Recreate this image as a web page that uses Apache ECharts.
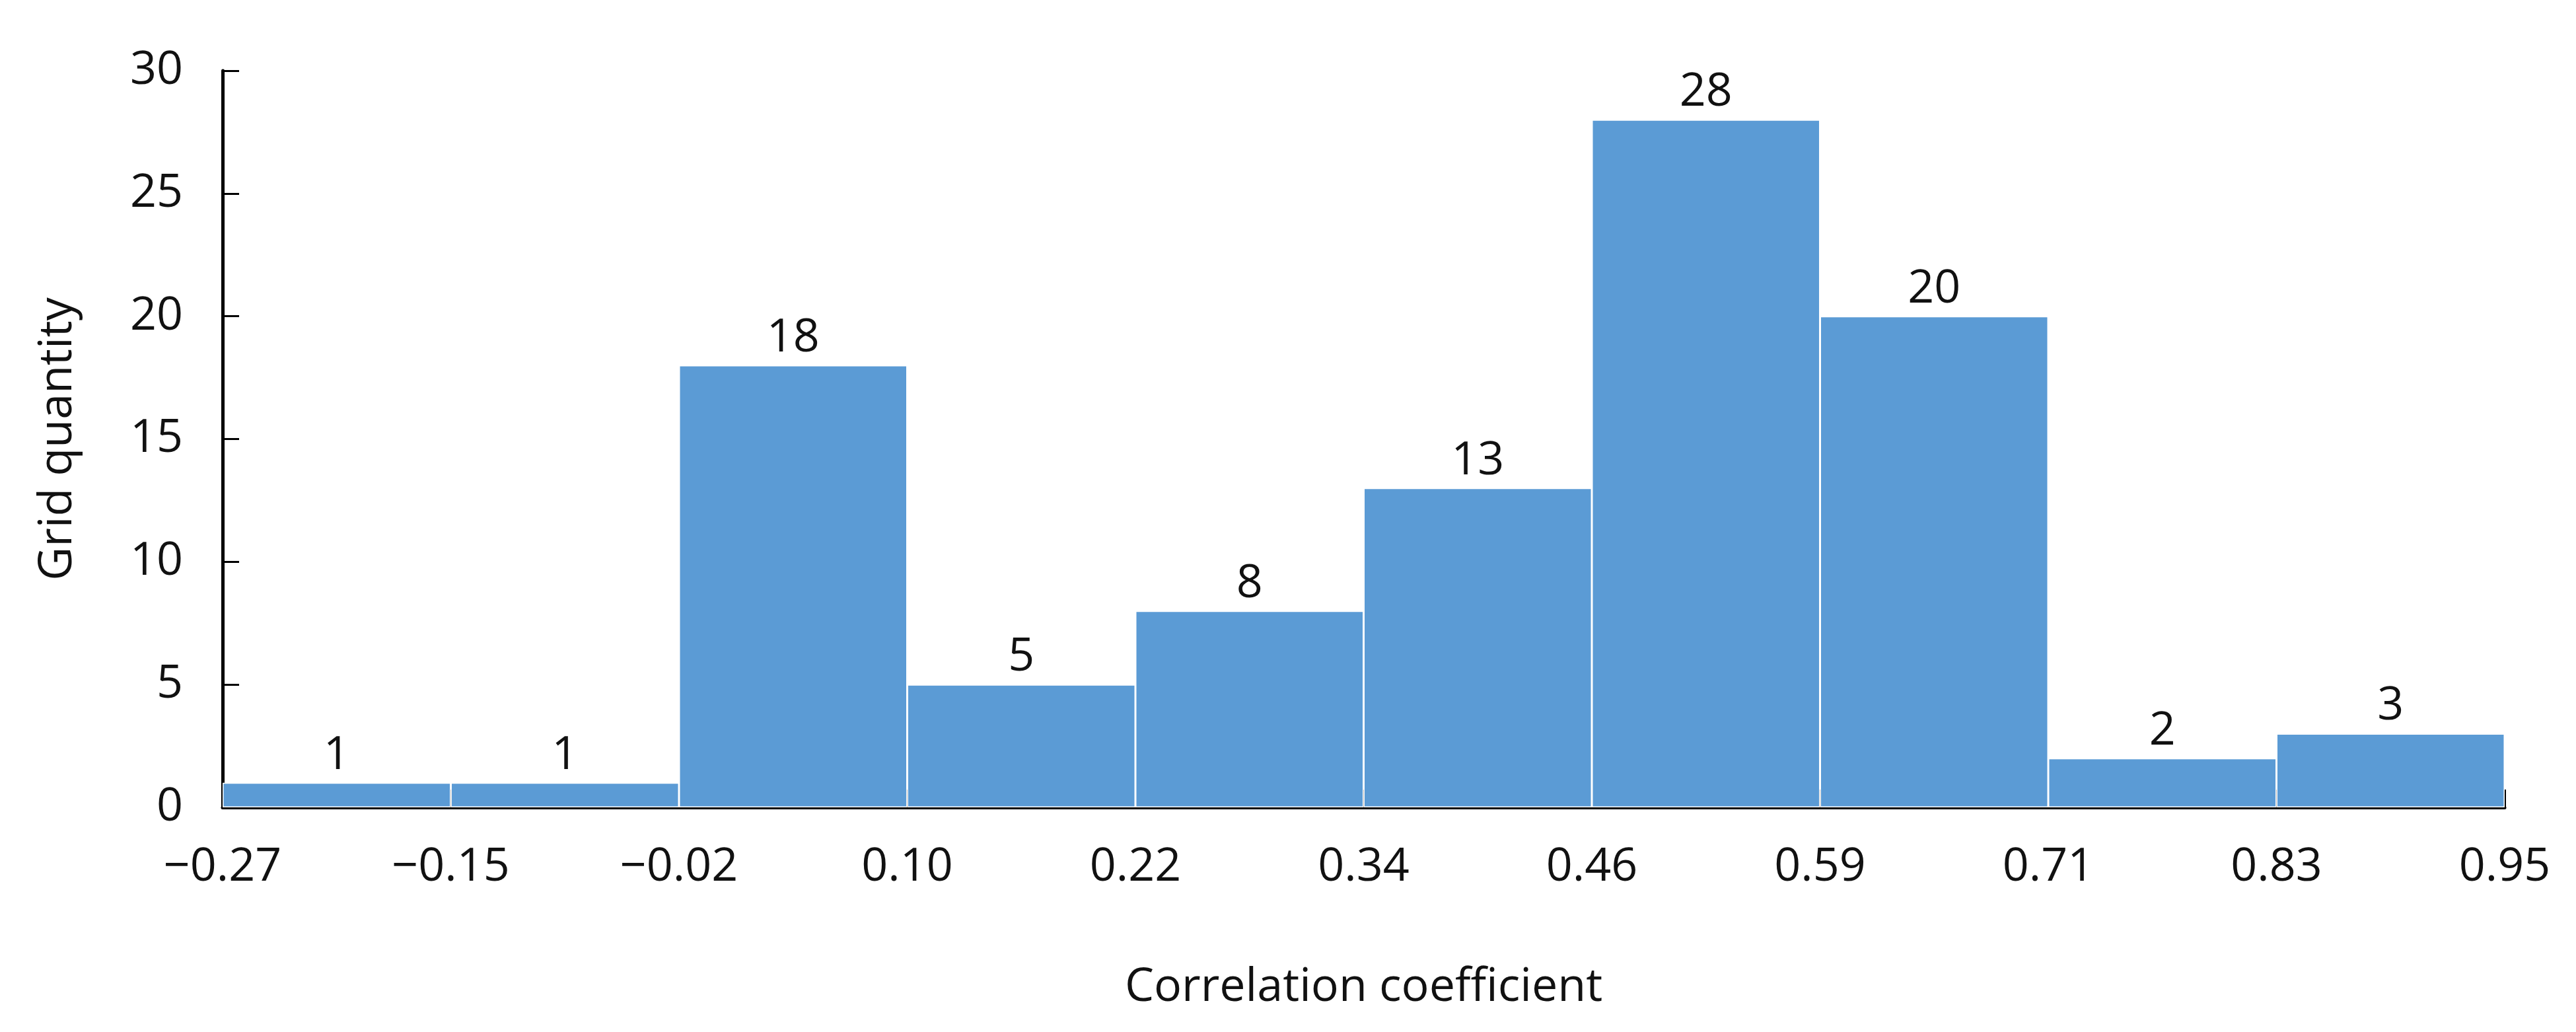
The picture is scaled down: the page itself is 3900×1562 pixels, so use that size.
<!DOCTYPE html>
<html>
<head>
<meta charset="utf-8">
<script src="https://cdn.jsdelivr.net/npm/echarts@6/dist/echarts.min.js"></script>
<style>
html,body{margin:0;padding:0;background:#fff;}
#chart{width:3900px;height:1562px;}
</style>
</head>
<body>
<div id="chart"></div>
<script>
const binEdges = ['\u22120.27','\u22120.15','\u22120.02','0.10','0.22','0.34','0.46','0.59','0.71','0.83','0.95'];
const binNames = ['b1','b2','b3','b4','b5','b6','b7','b8','b9','b10'];
const counts = [1, 1, 18, 5, 8, 13, 28, 20, 2, 3];
const yTicks = [0, 5, 10, 15, 20, 25, 30];

const FONT = '"Open Sans", "Liberation Sans", sans-serif';
const chart = echarts.init(document.getElementById('chart'), null, {renderer: 'canvas'});
chart.setOption({
  backgroundColor: '#ffffff',
  animation: false,
  grid: {left: 337, right: 108, top: 107, bottom: 340, containLabel: false},
  xAxis: [
    {
      type: 'category',
      data: binNames,
      boundaryGap: true,
      show: false
    },
    {
      type: 'value',
      min: 0,
      max: binEdges.length - 1,
      interval: 1,
      position: 'bottom',
      name: 'Correlation coefficient',
      nameLocation: 'middle',
      nameGap: 238,
      nameTextStyle: {fontFamily: FONT, fontSize: 70, color: '#111'},
      axisLine: {show: true, onZero: false, lineStyle: {color: '#000', width: 5}},
      axisTick: {show: true, inside: true, length: 27, lineStyle: {color: '#000', width: 3}},
      axisLabel: {
        show: true, margin: 56, fontFamily: FONT, fontSize: 70, color: '#111',
        formatter: function (v) { return binEdges[Math.round(v)]; }
      },
      splitLine: {show: false}
    }
  ],
  yAxis: {
    type: 'value',
    min: yTicks[0],
    max: yTicks[yTicks.length - 1],
    interval: yTicks[1] - yTicks[0],
    name: 'Grid quantity',
    nameLocation: 'middle',
    nameGap: 214,
    nameRotate: 90,
    nameTextStyle: {fontFamily: FONT, fontSize: 70, color: '#111'},
    axisLine: {show: true, lineStyle: {color: '#000', width: 5}},
    axisTick: {show: true, inside: true, length: 25, lineStyle: {color: '#000', width: 3}},
    axisLabel: {margin: 60, fontFamily: FONT, fontSize: 70, color: '#111'},
    splitLine: {show: false}
  },
  series: [{
    type: 'bar',
    xAxisIndex: 0,
    data: counts,
    barCategoryGap: '0%',
    itemStyle: {color: '#5B9BD5', borderColor: '#ffffff', borderWidth: 1.5},
    label: {
      show: true, position: 'top', distance: 6,
      fontFamily: FONT, fontSize: 70, color: '#111'
    },
    z: 1
  }]
});
</script>
</body>
</html>
